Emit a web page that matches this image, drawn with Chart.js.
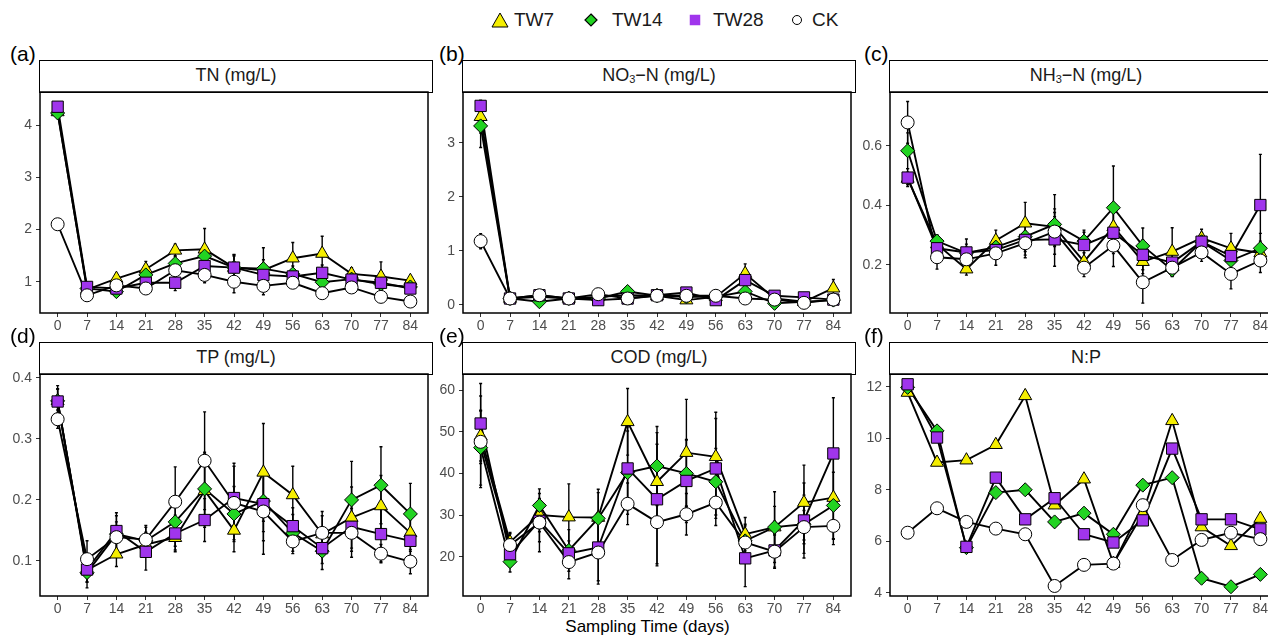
<!DOCTYPE html>
<html>
<head>
<meta charset="utf-8">
<script src="https://cdn.jsdelivr.net/npm/chart.js@4.4.0/dist/chart.umd.min.js"></script>
<style>
  html, body { margin: 0; width: 1268px; height: 635px; overflow: hidden; background: #fff; font-family: "Liberation Sans", Arial, sans-serif; }
  #wrap { position: relative; width: 1268px; height: 635px; overflow: hidden; }
  canvas { position: absolute; }
  .strip { position: absolute; box-sizing: border-box; border: 1.5px solid #000; background: #fff;
           text-align: center; font-size: 18px; line-height: 29px; color: #1a1a1a; }
  .strip sub { font-size: 11px; vertical-align: -2px; line-height: 0; }
  .tag { position: absolute; font-size: 21px; color: #000; line-height: 1; }
  .leg { position: absolute; top: 9px; font-size: 19px; color: #1a1a1a; line-height: 22px; }
  .legmark { position: absolute; top: 12px; }
  #xtitle { position: absolute; left: 0; width: 1295px; top: 617px; text-align: center; font-size: 17px; color: #000; }
</style>
</head>
<body>
<div id="wrap">
  <div id="xtitle">Sampling Time (days)</div>
</div>
<script>
// sampling days
const days = [0, 7, 14, 21, 28, 35, 42, 49, 56, 63, 70, 77, 84];
const seriesNames = ["TW7", "TW14", "TW28", "CK"];

// (a) TN (mg/L)
const tnTW7 = [4.25, 0.85, 1.06, 1.24, 1.6, 1.62, 1.27, 1.22, 1.45, 1.54, 1.15, 1.1, 1.02];
const tnTW14 = [4.23, 0.87, 0.81, 1.13, 1.35, 1.49, 1.27, 1.25, 1.15, 0.99, 1.05, 0.95, 0.9];
const tnTW28 = [4.35, 0.9, 0.87, 0.98, 0.98, 1.3, 1.27, 1.13, 1.1, 1.17, 1.04, 0.98, 0.87];
const tnCK = [2.1, 0.74, 0.93, 0.87, 1.22, 1.13, 1.0, 0.92, 0.98, 0.78, 0.89, 0.71, 0.62];
const tnTW7Sd = [0.1, 0.05, 0.08, 0.15, 0.12, 0.4, 0.22, 0.2, 0.3, 0.33, 0.12, 0.28, 0.07];
const tnTW14Sd = [0.08, 0.05, 0.06, 0.12, 0.15, 0.2, 0.25, 0.4, 0.15, 0.12, 0.1, 0.1, 0.06];
const tnTW28Sd = [0.06, 0.08, 0.05, 0.08, 0.15, 0.15, 0.24, 0.15, 0.1, 0.15, 0.08, 0.1, 0.05];
const tnCKSd = [0.08, 0.04, 0.05, 0.06, 0.1, 0.15, 0.21, 0.17, 0.08, 0.08, 0.06, 0.06, 0.05];

// (b) NO3-N (mg/L)
const no3TW7 = [3.48, 0.12, 0.15, 0.12, 0.15, 0.18, 0.17, 0.09, 0.15, 0.58, 0.12, 0.06, 0.31];
const no3TW14 = [3.31, 0.12, 0.06, 0.12, 0.12, 0.25, 0.17, 0.15, 0.15, 0.25, 0.03, 0.06, 0.09];
const no3TW28 = [3.68, 0.12, 0.18, 0.12, 0.09, 0.12, 0.18, 0.23, 0.09, 0.46, 0.17, 0.14, 0.1];
const no3CK = [1.18, 0.12, 0.18, 0.12, 0.2, 0.12, 0.17, 0.17, 0.17, 0.12, 0.1, 0.04, 0.1];
const no3TW7Sd = [0.3, 0.03, 0.03, 0.03, 0.03, 0.03, 0.03, 0.03, 0.03, 0.18, 0.03, 0.03, 0.16];
const no3TW14Sd = [0.4, 0.02, 0.03, 0.02, 0.02, 0.05, 0.02, 0.03, 0.02, 0.08, 0.02, 0.02, 0.03];
const no3TW28Sd = [0.1, 0.02, 0.02, 0.02, 0.03, 0.03, 0.02, 0.05, 0.02, 0.15, 0.04, 0.06, 0.03];
const no3CKSd = [0.14, 0.02, 0.03, 0.02, 0.03, 0.02, 0.02, 0.03, 0.02, 0.03, 0.02, 0.02, 0.03];

// (c) NH3-N (mg/L)
const nh3TW7 = [0.49, 0.27, 0.186, 0.282, 0.34, 0.328, 0.211, 0.328, 0.211, 0.245, 0.29, 0.256, 0.24];
const nh3TW14 = [0.583, 0.28, 0.24, 0.26, 0.295, 0.336, 0.28, 0.392, 0.264, 0.183, 0.278, 0.215, 0.256];
const nh3TW28 = [0.493, 0.256, 0.242, 0.25, 0.284, 0.286, 0.267, 0.308, 0.234, 0.208, 0.278, 0.23, 0.401];
const nh3CK = [0.678, 0.226, 0.219, 0.239, 0.273, 0.312, 0.191, 0.265, 0.142, 0.191, 0.242, 0.17, 0.215];
const nh3TW7Sd = [0.02, 0.03, 0.02, 0.035, 0.07, 0.06, 0.03, 0.05, 0.04, 0.08, 0.03, 0.05, 0.04];
const nh3TW14Sd = [0.06, 0.02, 0.03, 0.03, 0.05, 0.1, 0.03, 0.14, 0.06, 0.02, 0.03, 0.03, 0.05];
const nh3TW28Sd = [0.03, 0.03, 0.045, 0.03, 0.06, 0.09, 0.05, 0.07, 0.05, 0.03, 0.03, 0.03, 0.17];
const nh3CKSd = [0.07, 0.04, 0.03, 0.04, 0.04, 0.05, 0.03, 0.07, 0.07, 0.03, 0.03, 0.05, 0.04];

// (d) TP (mg/L)
const tpTW7 = [0.362, 0.085, 0.111, 0.127, 0.138, 0.215, 0.15, 0.245, 0.208, 0.144, 0.171, 0.19, 0.146];
const tpTW14 = [0.362, 0.081, 0.144, 0.133, 0.164, 0.218, 0.177, 0.198, 0.146, 0.116, 0.2, 0.224, 0.177];
const tpTW28 = [0.361, 0.086, 0.149, 0.115, 0.145, 0.167, 0.203, 0.193, 0.157, 0.121, 0.156, 0.144, 0.133];
const tpCK = [0.332, 0.103, 0.139, 0.135, 0.197, 0.264, 0.195, 0.181, 0.132, 0.146, 0.146, 0.112, 0.099];
const tpTW7Sd = [0.02, 0.02, 0.02, 0.02, 0.02, 0.06, 0.035, 0.08, 0.047, 0.03, 0.05, 0.05, 0.03];
const tpTW14Sd = [0.025, 0.025, 0.03, 0.025, 0.04, 0.06, 0.045, 0.05, 0.03, 0.03, 0.063, 0.063, 0.05];
const tpTW28Sd = [0.02, 0.02, 0.03, 0.03, 0.03, 0.035, 0.057, 0.06, 0.03, 0.025, 0.04, 0.045, 0.035];
const tpCKSd = [0.015, 0.03, 0.025, 0.02, 0.057, 0.08, 0.06, 0.07, 0.02, 0.035, 0.04, 0.015, 0.02];

// (e) COD (mg/L)
const codTW7 = [49, 23.5, 30, 29.5, 29.4, 52.4, 38, 45, 44, 25.4, 27.1, 33, 34.2];
const codTW14 = [46.2, 18.8, 32.3, 21.5, 29.2, 40.2, 41.8, 40, 38, 23.8, 27.1, 27.8, 32.3];
const codTW28 = [52, 20.6, 28.6, 20.8, 22.2, 41.2, 33.8, 38.2, 41.2, 19.6, 21.5, 28.7, 44.8];
const codCK = [47.6, 22.8, 28.2, 18.7, 21, 32.7, 28.3, 30.2, 33, 23.4, 21.2, 27.1, 27.4];
const codTW7Sd = [6, 2, 4, 8, 6, 8, 9, 12.8, 10.7, 4, 5, 9, 10];
const codTW14Sd = [9, 2.5, 4, 5, 7, 10, 9.5, 8, 8, 4, 8.5, 7, 8];
const codTW28Sd = [9.6, 3, 5, 3, 8, 10, 16, 10, 12, 6.8, 4, 9, 13.4];
const codCKSd = [11, 3, 7, 4, 7.6, 5, 10, 5, 5.5, 4, 4, 4, 4.5];

// (f) N:P
const npTW7 = [11.78, 9.06, 9.15, 9.75, 11.65, 7.4, 8.41, 5.13, 7.07, 10.68, 6.55, 5.82, 6.88];
const npTW14 = [11.98, 10.29, 5.75, 7.89, 8.0, 6.75, 7.09, 6.27, 8.18, 8.47, 4.56, 4.23, 4.71];
const npTW28 = [12.1, 10.03, 5.78, 8.47, 6.85, 7.67, 6.27, 5.95, 6.81, 9.6, 6.85, 6.85, 6.46];
const npCK = [6.33, 7.28, 6.75, 6.49, 6.27, 4.26, 5.08, 5.13, 7.4, 5.27, 6.05, 6.33, 6.08];

// y tick labels per panel
const tnTicks = [1, 2, 3, 4];
const no3Ticks = [0, 1, 2, 3];
const nh3Ticks = [0.2, 0.4, 0.6];
const tpTicks = [0.1, 0.2, 0.3, 0.4];
const codTicks = [20, 30, 40, 50, 60];
const npTicks = [4, 6, 8, 10, 12];

// marker look for each series
const markers = [
  { style: "triangle", fill: "#f5ee00", r: 7.5 },
  { style: "rectRot", fill: "#22d322", r: 7 },
  { style: "rect", fill: "#a035ec", r: 8 },
  { style: "circle", fill: "#ffffff", r: 6.5 }
];

const panels = [
  { tag: "(a)", title: "TN (mg/L)", vals: [tnTW7, tnTW14, tnTW28, tnCK], sd: [tnTW7Sd, tnTW14Sd, tnTW28Sd, tnCKSd], ticks: tnTicks, min: 0.401, max: 4.632 },
  { tag: "(b)", title: "NO<sub>3</sub>−N (mg/L)", vals: [no3TW7, no3TW14, no3TW28, no3CK], sd: [no3TW7Sd, no3TW14Sd, no3TW28Sd, no3CKSd], ticks: no3Ticks, min: -0.148, max: 3.937 },
  { tag: "(c)", title: "NH<sub>3</sub>−N (mg/L)", vals: [nh3TW7, nh3TW14, nh3TW28, nh3CK], sd: [nh3TW7Sd, nh3TW14Sd, nh3TW28Sd, nh3CKSd], ticks: nh3Ticks, min: 0.039, max: 0.78 },
  { tag: "(d)", title: "TP (mg/L)", vals: [tpTW7, tpTW14, tpTW28, tpCK], sd: [tpTW7Sd, tpTW14Sd, tpTW28Sd, tpCKSd], ticks: tpTicks, min: 0.0427, max: 0.406 },
  { tag: "(e)", title: "COD (mg/L)", vals: [codTW7, codTW14, codTW28, codCK], sd: [codTW7Sd, codTW14Sd, codTW28Sd, codCKSd], ticks: codTicks, min: 10.55, max: 63.9 },
  { tag: "(f)", title: "N:P", vals: [npTW7, npTW14, npTW28, npCK], sd: null, ticks: npTicks, min: 3.87, max: 12.5 }
];

// page layout (px)
const colLeft = [40, 463, 890];
const tagLeft = [10, 439, 864];
const stripTop = [61, 343];
const plotH = [221, 222];
const plotW = 392;
const stripH = 31;

Chart.defaults.font.family = '"Liberation Sans", Arial, sans-serif';

const errorBars = {
  id: "errorBars",
  beforeDatasetsDraw(chart) {
    const { ctx, scales: { x, y } } = chart;
    ctx.save();
    ctx.strokeStyle = "#000";
    ctx.lineWidth = 1.4;
    chart.data.datasets.forEach(ds => {
      if (!ds.sd) return;
      ds.data.forEach((p, i) => {
        const px = x.getPixelForValue(p.x);
        const top = y.getPixelForValue(p.y + ds.sd[i]);
        const bot = y.getPixelForValue(p.y - ds.sd[i]);
        ctx.beginPath();
        ctx.moveTo(px, top); ctx.lineTo(px, bot);
        ctx.moveTo(px - 1.5, top); ctx.lineTo(px + 1.5, top);
        ctx.moveTo(px - 1.5, bot); ctx.lineTo(px + 1.5, bot);
        ctx.stroke();
      });
    });
    ctx.restore();
  }
};

const frame = {
  id: "frame",
  afterDraw(chart) {
    const { ctx, chartArea: a } = chart;
    ctx.save();
    ctx.strokeStyle = "#000";
    ctx.lineWidth = 1.5;
    ctx.strokeRect(a.left, a.top, a.right - a.left, a.bottom - a.top);
    ctx.restore();
  }
};

const wrap = document.getElementById("wrap");

panels.forEach((p, n) => {
  const col = n % 3, row = Math.floor(n / 3);
  const L = colLeft[col], T = stripTop[row], H = plotH[row];
  const plotTop = T + stripH;

  const strip = document.createElement("div");
  strip.className = "strip";
  strip.style.left = (L - 0.75) + "px";
  strip.style.top = (T - 0.75) + "px";
  strip.style.width = (plotW + 1.5) + "px";
  strip.style.height = (stripH + 1.5) + "px";
  strip.innerHTML = p.title;
  wrap.appendChild(strip);

  const tag = document.createElement("div");
  tag.className = "tag";
  tag.style.left = tagLeft[col] + "px";
  tag.style.top = (T - 18) + "px";
  tag.textContent = p.tag;
  wrap.appendChild(tag);

  // chart area ends 5px before the canvas edge (2px padding + 3px kept by Chart.js)
  const cv = document.createElement("canvas");
  cv.width = 40 + plotW + 5;
  cv.height = 15 + H + 24;
  cv.style.left = (L - 40) + "px";
  cv.style.top = (plotTop - 15) + "px";
  wrap.appendChild(cv);

  const datasets = [];
  p.vals.forEach((vals, k) => {
    const pts = days.map((d, i) => ({ x: d, y: vals[i] }));
    datasets.push({
      label: seriesNames[k] + " line", data: pts, sd: p.sd ? p.sd[k] : null,
      showLine: true, borderColor: "#000", borderWidth: 1.9, pointRadius: 0,
      tension: 0, order: 10, clip: false
    });
    datasets.push({
      label: seriesNames[k], data: pts, showLine: false,
      pointStyle: markers[k].style, pointRadius: markers[k].r,
      backgroundColor: markers[k].fill, borderColor: "#000", pointBorderWidth: 1,
      order: 4 - k, clip: false
    });
  });

  const tickFont = { size: 14 };
  new Chart(cv, {
    type: "line",
    data: { datasets },
    options: {
      responsive: false,
      animation: false,
      events: [],
      layout: { padding: { top: 15, right: 2, left: 0, bottom: 0 } },
      plugins: { legend: { display: false }, tooltip: { enabled: false } },
      scales: {
        x: {
          type: "linear", min: -4.2, max: 88.2,
          afterBuildTicks: s => { s.ticks = days.map(v => ({ value: v })); },
          afterFit: s => { s.height = 24; },
          ticks: { color: "#4d4d4d", font: tickFont, padding: 1, maxRotation: 0, callback: v => String(v) },
          grid: { display: true, drawOnChartArea: false, drawTicks: true, tickLength: 4, color: "#333" },
          border: { display: false }
        },
        y: {
          type: "linear", min: p.min, max: p.max,
          afterBuildTicks: s => { s.ticks = p.ticks.map(v => ({ value: v })); },
          afterFit: s => { s.width = 40; },
          ticks: { color: "#4d4d4d", font: tickFont, padding: 4, callback: v => String(v) },
          grid: { display: true, drawOnChartArea: false, drawTicks: true, tickLength: 4, color: "#333" },
          border: { display: false }
        }
      }
    },
    plugins: [errorBars, frame]
  });
});

// shared legend at the top
const legendMarkX = [500, 591, 695, 797];
const legendTextX = [514, 612, 713, 812];
const legendSvg = [
  '<svg width="18" height="16"><polygon points="9,1 17,15 1,15" fill="#f5ee00" stroke="#000" stroke-width="1"/></svg>',
  '<svg width="18" height="16"><polygon points="9,2 15,8 9,14 3,8" fill="#22d322" stroke="#000" stroke-width="1.2"/></svg>',
  '<svg width="18" height="16"><rect x="4" y="3" width="10" height="10" fill="#a035ec" stroke="#a035ec" stroke-width="0.5"/></svg>',
  '<svg width="18" height="16"><circle cx="9" cy="8" r="4.5" fill="#fff" stroke="#000" stroke-width="1"/></svg>'
];
seriesNames.forEach((name, k) => {
  const m = document.createElement("div");
  m.className = "legmark";
  m.style.left = (legendMarkX[k] - 9) + "px";
  m.innerHTML = legendSvg[k];
  wrap.appendChild(m);
  const t = document.createElement("div");
  t.className = "leg";
  t.style.left = legendTextX[k] + "px";
  t.textContent = name;
  wrap.appendChild(t);
});
</script>
</body>
</html>
